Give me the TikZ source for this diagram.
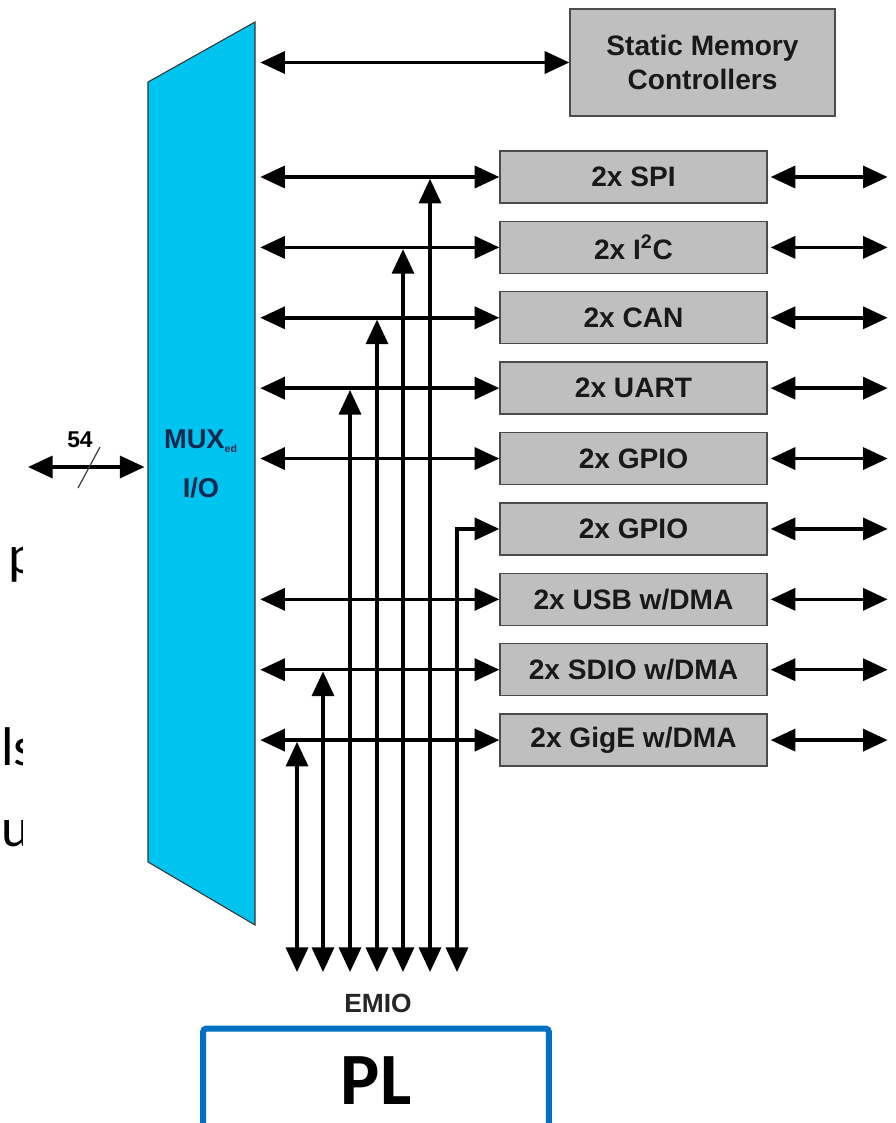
\documentclass[tikz,border=0pt]{standalone}
\usepackage{fontspec}
\setmainfont{Liberation Sans}
\newfontfamily\slidefont{Carlito}
\usetikzlibrary{arrows.meta, positioning}

\definecolor{muxblue}{RGB}{0,196,240}
\definecolor{muxtext}{RGB}{20,40,80}
\definecolor{plblue}{RGB}{0,112,192}

\tikzset{
  periph/.style={draw=black!70, fill=black!25, line width=0.8pt, text=black!90,
    minimum width=5.34cm, minimum height=1.04cm, inner sep=0pt,
    font=\fontsize{16}{19}\selectfont\bfseries},
  bus/.style={line width=2pt, {Triangle[length=14pt,width=12.5pt]}-{Triangle[length=14pt,width=12.5pt]}},
  fragment/.style={anchor=base west, inner sep=0pt, font=\slidefont\fontsize{31}{31}\selectfont},
}

\begin{document}
\begin{tikzpicture}[x=0.02cm, y=-0.02cm, node distance=1.408cm, on grid]
    \useasboundingbox (0,0) rectangle (896,1123);

    % cut-off slide text on the left
    \begin{scope}
        \clip (0,0) rectangle (22,1123);
        \node[fragment] (fragp) at (8,573) {p};
        \node[fragment] (fragl) at (1,765) {ls};
        \node[fragment] (fragu) at (1,846) {u};
    \end{scope}

    % MUXed I/O
    \draw[fill=muxblue, draw=black!80, line width=0.6pt]
        (148,82) -- (255,22) -- (255,925) -- (148,862) -- cycle;
    \coordinate (muxR) at (255,0);
    \coordinate (muxL) at (148,0);
    \node[align=center, text=muxtext, font=\fontsize{15.5}{28}\selectfont\bfseries] (muxlabel) at (201,464)
        {MUX\textsubscript{\fontsize{6}{6}\selectfont ed}\\I/O};

    % pins
    \coordinate (padL) at (28,467);
    \draw[bus] (padL) -- ([xshift=-2pt]muxL |- padL);
    \draw[line width=0.7pt, black!75] (78,488) -- (100,447);
    \node[font=\fontsize{13}{13}\selectfont\bfseries] (pins) at (80,440) {54};

    % peripherals
    \node[periph, minimum width=5.3cm, minimum height=2.14cm, align=center] (smc) at (702.5,62.5)
        {Static Memory\\Controllers};
    \node[periph] (spi) at (633.5,177) {2x SPI};
    \node[periph] (iic) [below=of spi] {2x I\textsuperscript{2}C};
    \node[periph] (can) [below=of iic] {2x CAN};
    \node[periph] (uart) [below=of can] {2x UART};
    \node[periph] (gpioa) [below=of uart] {2x GPIO};
    \node[periph] (gpiob) [below=of gpioa] {2x GPIO};
    \node[periph] (usb) [below=of gpiob] {2x USB w/DMA};
    \node[periph] (sdio) [below=of usb] {2x SDIO w/DMA};
    \node[periph] (gige) [below=of sdio] {2x GigE w/DMA};

    \draw[bus] ([xshift=3pt]muxR |- smc.west) -- (smc.west);
    \foreach \p in {spi,iic,can,uart,gpioa,usb,sdio,gige}
        \draw[bus] ([xshift=3pt]muxR |- \p.west) -- (\p.west);
    \foreach \p in {spi,iic,can,uart,gpioa,gpiob,usb,sdio,gige}
        \draw[bus] ([xshift=0.06cm]\p.east) -- ([xshift=2.4cm]\p.east);

    % EMIO
    \foreach \x/\p [count=\i] in {297/gige,323/sdio,350/uart,377/can,403/iic,430/spi}{
        \coordinate (emio\i) at (\x,972);
        \draw[bus] (emio\i) -- ([yshift=-1pt]emio\i |- \p.west);
    }
    \coordinate (emio7) at (457,972);
    \draw[bus] (emio7) |- (gpiob.west);
    \node[font=\fontsize{15}{15}\selectfont\bfseries, text=black!85] (emiolabel) at (378,1003) {EMIO};

    % PL
    \node[draw=plblue, line width=3.4pt, rounded corners=2pt, minimum width=6.92cm, minimum height=2.1cm,
          font=\slidefont\bfseries\fontsize{42}{42}\selectfont] (pl) at (376,1081) {PL};
\end{tikzpicture}
\end{document}
